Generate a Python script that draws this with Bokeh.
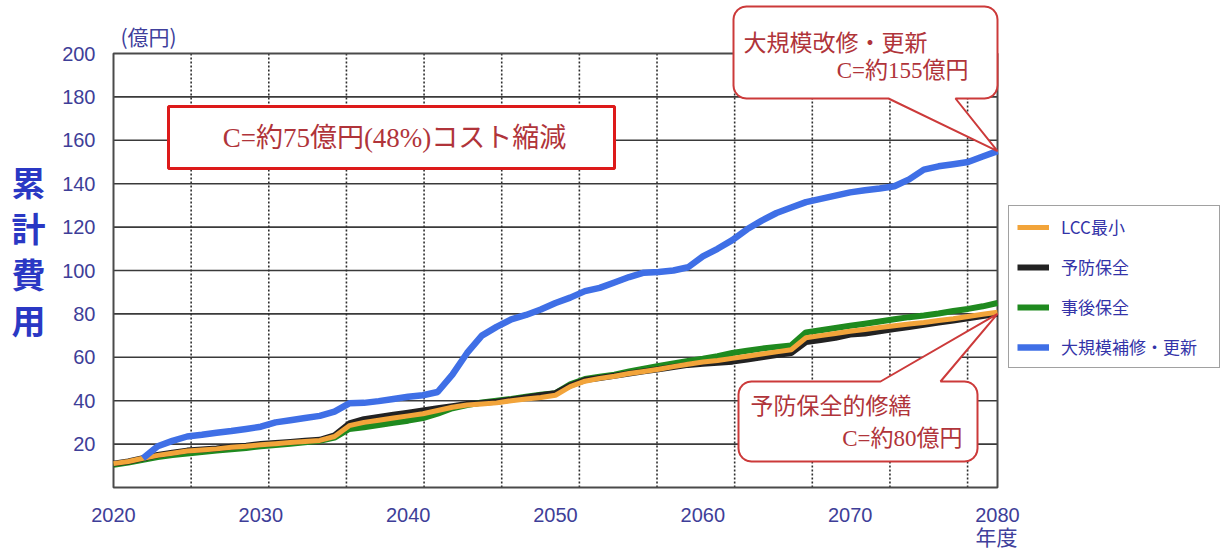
import numpy as np
from bokeh.plotting import figure
from bokeh.models import (Range1d, FixedTicker, Legend, LegendItem, Label,
                          BoxAnnotation, PolyAnnotation)
from bokeh.embed import file_html
from bokeh.resources import INLINE

# ---- data (cumulative cost, 億円) ----
YEARS = list(range(2020, 2081))

LCC_MIN = [11, 12, 13.5, 14.8, 15.8, 16.8, 17.3, 17.8, 18.5, 19, 19.7, 20.2, 20.7, 21.2, 21.7,
           23.5, 28.5, 30, 31, 32, 33, 34, 35.5, 37, 38, 38.5, 39, 40, 40.8, 41.5, 42.5,
           46.5, 49, 50.3, 51.3, 52.5, 53.5, 54.5, 55.7, 56.8, 57.8, 58.5, 59.5, 60.5, 61.5,
           62.5, 63.5, 69, 70, 71, 72, 72.8, 73.7, 74.5, 75.3, 76, 77, 77.8, 78.8, 79.8, 80.8]

PREVENTIVE = [11, 12, 13.5, 15, 16, 17, 17.5, 18, 18.8, 19.3, 20, 20.5, 21, 21.5, 22,
              24, 29.5, 31.5, 32.5, 33.5, 34.5, 35.5, 36.5, 37.5, 38.5, 39, 39.5, 40.5, 41.5,
              42.5, 43.5, 47, 49.5, 50.5, 51.5, 52.5, 53.5, 54.5, 55.5, 56.5, 57, 57.5, 58,
              59, 60, 61, 62, 67, 68, 69, 70.5, 71, 72, 73, 74, 75, 76, 77, 78, 79, 80]

CORRECTIVE = [10.5, 11.5, 12.8, 14, 15, 15.7, 16.3, 17, 17.6, 18.2, 19, 19.6, 20.2, 20.8, 21.5,
              23, 27, 27.8, 28.8, 29.8, 30.8, 32, 34, 36.5, 38, 39.2, 40, 40.8, 41.8, 42.7,
              43.5, 47.5, 50, 51, 52, 53.5, 54.8, 56, 57.2, 58.3, 59.3, 60.5, 62, 63, 64,
              64.8, 65.5, 71.5, 72.5, 73.5, 74.5, 75.5, 76.5, 77.5, 78.5, 79.3, 80.2, 81.3,
              82.3, 83.5, 85]

RENEWAL_YEARS = list(range(2022, 2081))
RENEWAL = [13.5, 19, 21.5, 23.5, 24.3, 25.2, 26, 27, 28, 30, 31, 32, 33, 35, 38.8, 39, 39.8,
           40.8, 41.8, 42.5, 44, 52, 62, 70, 74, 77.5, 79.5, 82, 85, 87.5, 90.5, 92, 94.5, 97,
           99, 99.3, 100, 101.5, 106.5, 110, 114, 119, 123, 126.5, 129, 131.5, 133, 134.5,
           136, 137, 137.8, 138.8, 142, 146.5, 148, 149, 150, 152.5, 155]

SERIES_NAMES = ["LCC最小", "予防保全", "事後保全", "大規模補修・更新"]
X_TICKS = [2020, 2030, 2040, 2050, 2060, 2070, 2080]
Y_TICKS = [20, 40, 60, 80, 100, 120, 140, 160, 180, 200]
V_GRID = [round(2020 + 5.27 * k, 2) for k in range(1, 12)]   # dotted verticals

# ---- layout: the plot area sits inside a frame that fills the page ----
W, H = 1221, 550
FL, FR, FT, FB = 113, 997, 53, 487          # plot area edges in page pixels
X0, X1, Y0, Y1 = 2020, 2080, 0, 200


def dx(px):
    return X0 + (px - FL) * (X1 - X0) / (FR - FL)


def dy(py):
    return Y0 + (FB - py) * (Y1 - Y0) / (FB - FT)


def page_y(v):
    return FB - (v - Y0) * (FB - FT) / (Y1 - Y0)


p = figure(width=W, height=H, output_backend="svg", toolbar_location=None,
           x_range=Range1d(dx(0), dx(W)), y_range=Range1d(dy(H), dy(0)),
           min_border=0, title=None)
p.background_fill_color = "white"
p.border_fill_color = "white"
p.outline_line_color = None
p.grid.visible = False

TICK_COLOR = "#3e3e98"
for ax in (p.xaxis[0], p.yaxis[0]):
    ax.axis_line_color = None
    ax.major_tick_line_color = None
    ax.minor_tick_line_color = None
    ax.major_label_text_font = "Liberation Sans"
    ax.major_label_text_font_size = "20px"
    ax.major_label_text_color = TICK_COLOR
p.xaxis.ticker = FixedTicker(ticks=X_TICKS)
p.yaxis.ticker = FixedTicker(ticks=Y_TICKS)
p.xaxis.fixed_location = Y0
p.yaxis.fixed_location = X0
p.xaxis.major_label_standoff = 14
p.yaxis.major_label_standoff = 12

# grid and plot-area border
hy = Y_TICKS[:-1]
p.segment(x0=[X0] * len(hy), y0=hy, x1=[X1] * len(hy), y1=hy,
          line_color="#3a3a3a", line_width=1.6)
p.segment(x0=V_GRID, y0=[Y0] * len(V_GRID), x1=V_GRID, y1=[Y1] * len(V_GRID),
          line_color="#2e2e2e", line_width=1.6, line_dash="2 2")
p.quad(left=[X0], right=[X1], bottom=[Y0], top=[Y1], fill_color=None,
       line_color="#4a4a4a", line_width=2)

# ---- series ----
r_green = p.line(YEARS, CORRECTIVE, line_color="#1f8a1f", line_width=6)
r_black = p.line(YEARS, PREVENTIVE, line_color="#222222", line_width=6)
r_orange = p.line(YEARS, LCC_MIN, line_color="#f2a43a", line_width=5)
r_blue = p.line(RENEWAL_YEARS, RENEWAL, line_color="#3f6fe6", line_width=6.5)

legend = Legend(items=[LegendItem(label=SERIES_NAMES[0], renderers=[r_orange]),
                       LegendItem(label=SERIES_NAMES[1], renderers=[r_black]),
                       LegendItem(label=SERIES_NAMES[2], renderers=[r_green]),
                       LegendItem(label=SERIES_NAMES[3], renderers=[r_blue])],
                location=(1008, H - 368), orientation="vertical",
                glyph_width=32, glyph_height=20, label_height=20, label_width=150,
                spacing=15, padding=8, margin=0, label_standoff=12,
                label_text_font="Noto Sans CJK JP", label_text_font_size="17px",
                label_text_color="#3333a8",
                border_line_color="#444444", border_line_width=1.5,
                background_fill_color="white", background_fill_alpha=1)
p.add_layout(legend, "center")

# ---- axis captions ----
for i, ch in enumerate("累計費用"):
    p.add_layout(Label(x=dx(28), y=dy(181 + 46 * i), text=ch, text_align="center",
                       text_baseline="middle", text_font="Noto Sans CJK JP",
                       text_font_size="34px", text_font_style="bold", text_color="#2a38c4"))
p.add_layout(Label(x=dx(148), y=dy(35), text="(億円)", text_align="center",
                   text_baseline="middle", text_font="Noto Sans CJK JP",
                   text_font_size="21px", text_color="#40409c"))
p.add_layout(Label(x=dx(996), y=dy(535), text="年度", text_align="center",
                   text_baseline="middle", text_font="Noto Sans CJK JP",
                   text_font_size="21px", text_color="#40409c"))

# ---- cost reduction box ----
RED_TEXT = "#b0343a"
p.add_layout(BoxAnnotation(left=dx(168), right=dx(614), top=dy(106), bottom=dy(168),
                           fill_color="white", fill_alpha=1, line_color="#dd1a1a",
                           line_alpha=1, line_width=3, level="overlay"))
p.add_layout(Label(x=dx(394), y=dy(137), text="C=約75億円(48%)コスト縮減",
                   text_align="center", text_baseline="middle",
                   text_font="Liberation Serif, Noto Sans CJK JP", text_font_size="27px",
                   text_color=RED_TEXT, level="overlay"))


def callout(left, right, top, bottom, base0, base1, tip, radius=13, up=False):
    """Rounded box with a pointer leaving the bottom (or top) edge towards tip."""
    pts = []

    def arc(cx, cy, a0, a1):
        for a in np.linspace(a0, a1, 7):
            pts.append((cx + radius * np.cos(a), cy + radius * np.sin(a)))

    # page coords: y grows downwards
    arc(left + radius, top + radius, np.pi, 1.5 * np.pi)
    if up:
        pts.extend([(base0, top), tip, (base1, top)])
    arc(right - radius, top + radius, 1.5 * np.pi, 2 * np.pi)
    arc(right - radius, bottom - radius, 0, 0.5 * np.pi)
    if not up:
        pts.extend([(base1, bottom), tip, (base0, bottom)])
    arc(left + radius, bottom - radius, 0.5 * np.pi, np.pi)
    xs = [dx(a) for a, _ in pts]
    ys = [dy(b) for _, b in pts]
    p.add_layout(PolyAnnotation(xs=xs, ys=ys, fill_color="white", fill_alpha=1,
                                line_color="#cc3a3a", line_alpha=1, line_width=2,
                                level="overlay"))


# renewal callout, pointing at the 2080 value of the renewal curve
callout(733, 997, 6, 98, 888, 955, (FR, page_y(RENEWAL[-1])))
p.add_layout(Label(x=dx(743), y=dy(40), text="大規模改修・更新", text_align="left",
                   text_baseline="middle", text_font="Noto Sans CJK JP",
                   text_font_size="23px", text_color=RED_TEXT, level="overlay"))
p.add_layout(Label(x=dx(968), y=dy(70), text="C=約155億円", text_align="right",
                   text_baseline="middle", text_font="Liberation Serif, Noto Sans CJK JP",
                   text_font_size="23px", text_color=RED_TEXT, level="overlay"))

# preventive callout, pointing at the 2080 value of the preventive curve
callout(738, 977, 381, 461, 880, 940, (FR, page_y(PREVENTIVE[-1])), up=True)
p.add_layout(Label(x=dx(750), y=dy(403), text="予防保全的修繕", text_align="left",
                   text_baseline="middle", text_font="Noto Sans CJK JP",
                   text_font_size="23px", text_color=RED_TEXT, level="overlay"))
p.add_layout(Label(x=dx(962), y=dy(438), text="C=約80億円", text_align="right",
                   text_baseline="middle", text_font="Liberation Serif, Noto Sans CJK JP",
                   text_font_size="23px", text_color=RED_TEXT, level="overlay"))

open("out.html", "w").write(file_html(p, INLINE))
